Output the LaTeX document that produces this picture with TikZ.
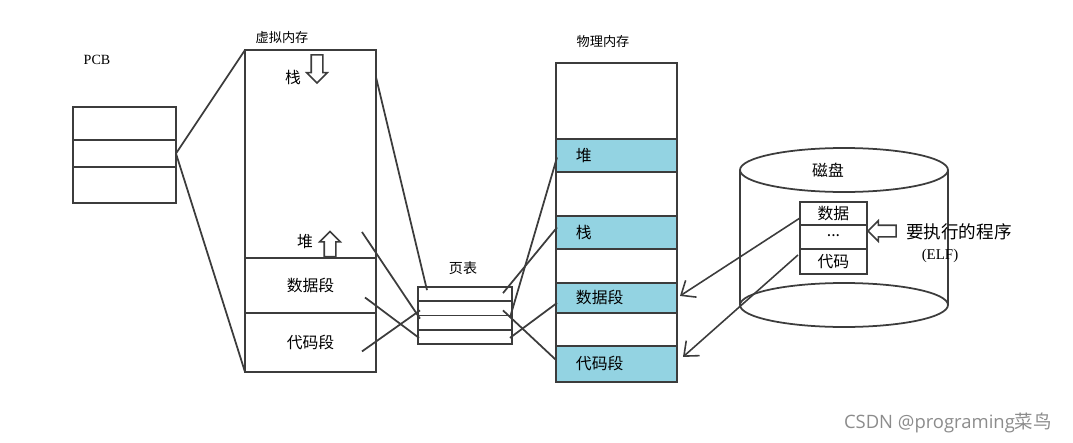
\documentclass[tikz,border=0pt]{standalone}
\usepackage{fontspec}
\setmainfont{Noto Sans CJK SC}
\newfontfamily\pcbfont{Liberation Serif}
\newfontfamily\markfont{Open Sans}
\usepackage{tikz}
\usetikzlibrary{shapes.arrows,arrows.meta,positioning,calc}
\definecolor{bandblue}{RGB}{147,211,226}
\definecolor{inkline}{RGB}{60,60,60}
\tikzset{
  seg/.style={draw=inkline, line width=1pt, rectangle, inner sep=0pt, outer sep=0pt, minimum width=#1},
  band/.style={seg=2.42cm, fill=bandblue, text width=1.62cm, inner xsep=.4cm, align=left, font=\fontsize{9}{10}\selectfont},
  gap/.style={seg=2.42cm},
  ptrow/.style={seg=1.88cm, minimum height=.285cm},
  link/.style={draw=inkline, line width=1pt},
  fetch/.style={draw=inkline, line width=.9pt, -{Straight Barb[length=2.4mm,width=4mm]}},
  blockarrow/.style={single arrow, draw=inkline, line width=.9pt, fill=white, inner sep=.1cm,
    single arrow head extend=.09cm, minimum height=#1},
  title/.style={font=\fontsize{7.5}{9}\selectfont},
  lbl/.style={font=\fontsize{9}{10}\selectfont}
}
\begin{document}
\begin{tikzpicture}[x=0.02cm, y=-0.02cm]
\useasboundingbox (0,0) rectangle (1073,443);

% PCB
\node[font=\pcbfont\fontsize{8}{9}\selectfont] (pcbname) at (97,60) {PCB};
\node[seg=2.06cm, minimum height=.66cm, anchor=north west] (pcb1) at (73,107) {};
\node[seg=2.06cm, minimum height=.54cm, below=0pt of pcb1] (pcb2) {};
\node[seg=2.06cm, minimum height=.72cm, below=0pt of pcb2] (pcb3) {};

% virtual memory
\node[title] (vmname) at (282,38) {虚拟内存};
\node[seg=2.62cm, minimum height=4.16cm, anchor=north west] (vmtop) at (245,50) {};
\node[seg=2.62cm, minimum height=1.1cm, below=0pt of vmtop, lbl] (vmdata) {数据段};
\node[seg=2.62cm, minimum height=1.18cm, below=0pt of vmdata, lbl] (vmcode) {代码段};
\node[lbl] (vmstack) at (293,77) {栈};
\node[lbl] (vmheap) at (305,242) {堆};
\node[blockarrow=.56cm, shape border rotate=270] (down) at (317,66) {};
\node[blockarrow=.5cm, shape border rotate=90] (up) at (330,247) {};

% page table
\node[font=\fontsize{8}{9}\selectfont] (ptname) at (463,268) {页表};
\node[ptrow, anchor=north west] (pt1) at (418,287) {};
\node[ptrow, below=0pt of pt1] (pt2) {};
\node[ptrow, below=0pt of pt2] (pt3) {};
\node[ptrow, below=0pt of pt3] (pt4) {};

% physical memory
\node[title] (pmname) at (603,42) {物理内存};
\node[gap, minimum height=1.52cm, anchor=north west] (pm1) at (556,63) {};
\node[band, minimum height=.66cm, below=0pt of pm1] (pheap) {堆};
\node[gap, minimum height=.88cm, below=0pt of pheap] (pm2) {};
\node[band, minimum height=.66cm, below=0pt of pm2] (pstack) {栈};
\node[gap, minimum height=.68cm, below=0pt of pstack] (pm3) {};
\node[band, minimum height=.6cm, below=0pt of pm3] (pdata) {数据段};
\node[gap, minimum height=.66cm, below=0pt of pdata] (pm4) {};
\node[band, minimum height=.72cm, below=0pt of pm4] (pcode) {代码段};

% disk
\draw[inkline, line width=1pt] (740,170) -- (740,305);
\draw[inkline, line width=1pt] (948,170) -- (948,305);
\draw[inkline, line width=1pt, fill=white] (844,170) ellipse [x radius=2.08cm, y radius=.44cm];
\draw[inkline, line width=1pt] (844,305) ellipse [x radius=2.08cm, y radius=.44cm];
\node[lbl] (diskname) at (828,170) {磁盘};
\node[seg=1.34cm, minimum height=.46cm, anchor=north west, lbl] (elf1) at (800,202) {数据};
\node[seg=1.34cm, minimum height=.48cm, below=0pt of elf1, lbl] (elf2) {\raisebox{.3ex}{...}};
\node[seg=1.34cm, minimum height=.5cm, below=0pt of elf2, lbl] (elf3) {代码};
\node[blockarrow=.56cm, shape border rotate=180] (load) at (885,231) {};
\node[lbl, anchor=west, font=\fontsize{10}{11}\selectfont] (prog) at (900,232) {要执行的程序};
\node[font=\pcbfont\fontsize{8.5}{9}\selectfont] (elfname) at (940,256) {(ELF)};

% PCB -> virtual memory
\draw[link] (pcb2.east) -- (vmtop.north west);
\draw[link] (pcb2.east) -- (vmcode.south west);

% virtual memory -> page table
\draw[link] ($(vmtop.north east)+(0,27)$) -- ($(pt1.west)+(9,-4)$);
\draw[link] ($(vmtop.south east)+(-14,-26)$) -- ($(pt3.west)+(2,-4)$);
\draw[link] ($(vmdata.east)+(-11,12)$) -- ($(pt4.west)+(1,1)$);
\draw[link] ($(vmcode.east)+(-14,9)$) -- ($(pt2.west)+(2,2)$);

% physical memory -> page table
\draw[link] ($(pheap.west)+(1,2)$) -- ($(pt3.east)+(-2,-5)$);
\draw[link] ($(pstack.west)+(1,-5)$) -- ($(pt1.east)+(-9,-1)$);
\draw[link] ($(pdata.west)+(1,5)$) -- ($(pt4.east)+(-2,1)$);
\draw[link] ($(pcode.west)+(0,-4)$) -- ($(pt2.east)+(-9,2)$);

% disk -> physical memory
\draw[fetch] ($(elf1.south west)+(0,-7)$) -- ($(pdata.east)+(3,-2)$);
\draw[fetch] ($(elf3.north west)+(-2,6)$) -- ($(pcode.east)+(6,-7)$);

\node[anchor=east, text=black!45, font=\markfont\fontsize{10.5}{12}\selectfont] (mark) at (1058,423) {CSDN @programing{\rmfamily 菜鸟}};
\end{tikzpicture}
\end{document}
